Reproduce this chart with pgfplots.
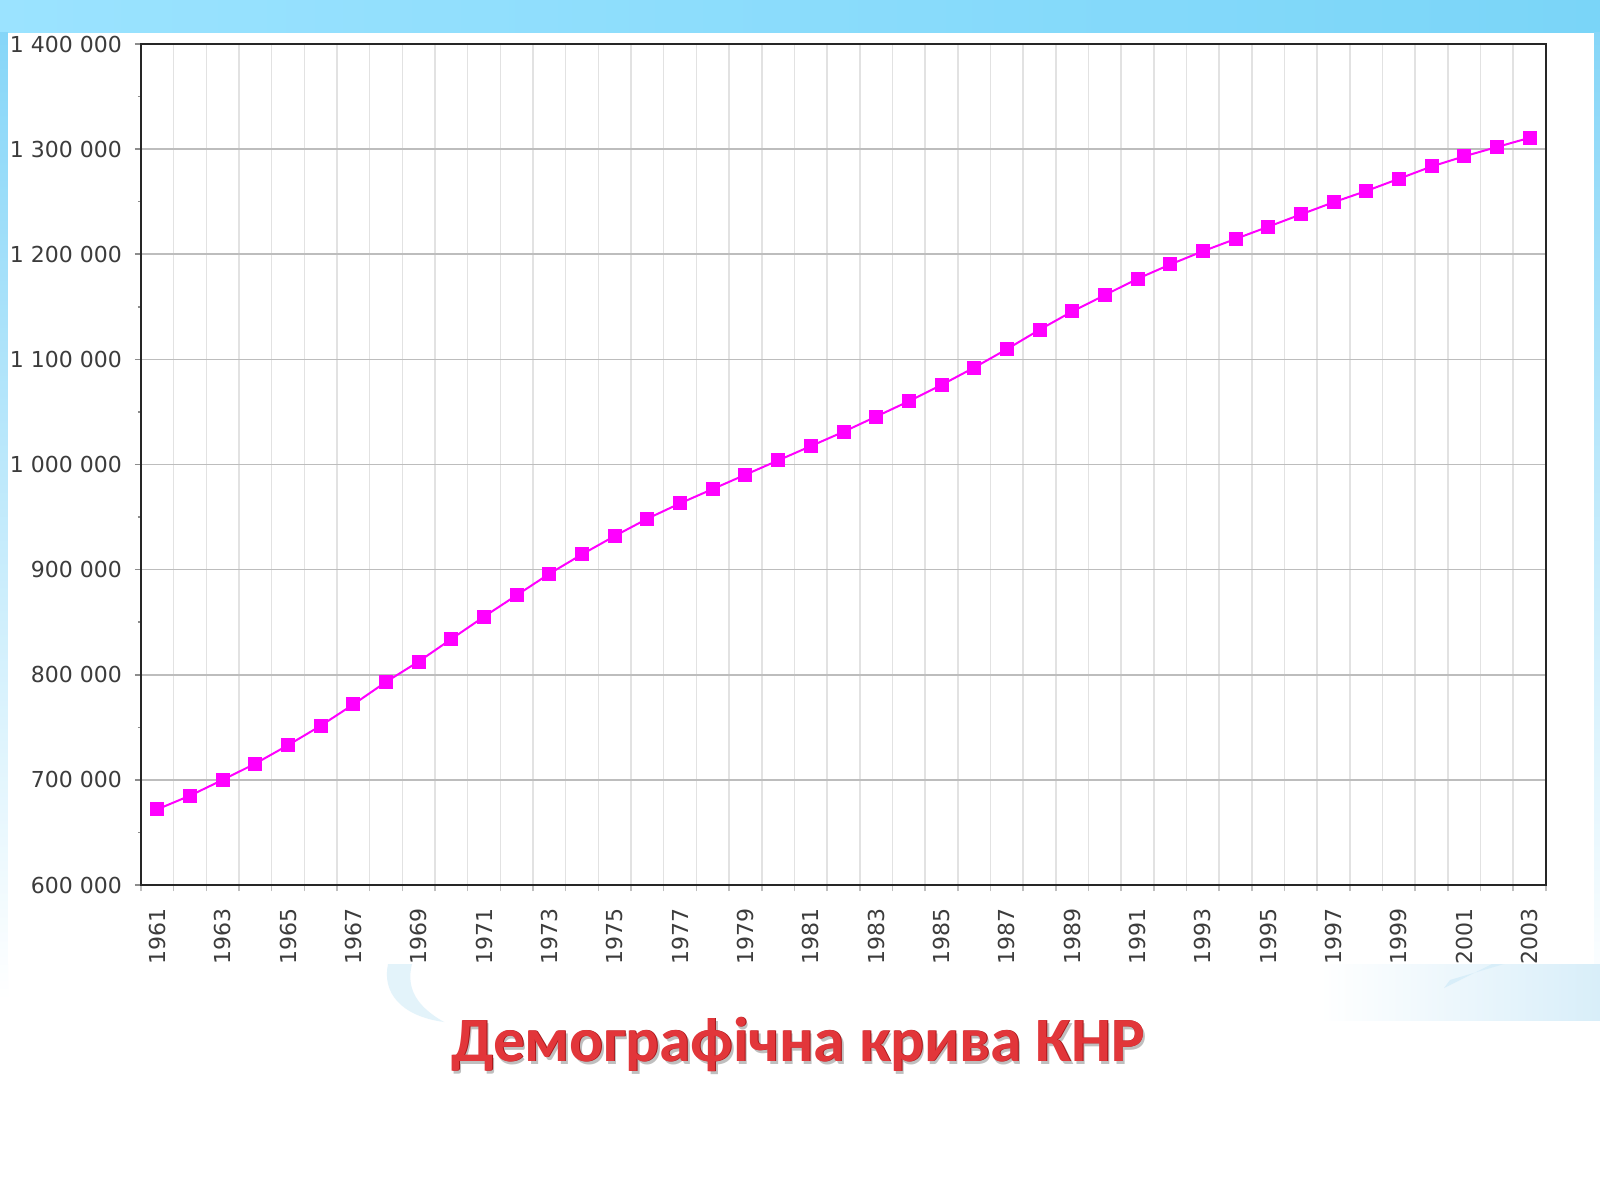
\documentclass[border=0pt]{standalone}
\usepackage{fontspec}
\setmainfont{DejaVu Sans}
\newfontfamily\titlefont{Carlito}
\usepackage{pgfplots}
\pgfplotsset{compat=1.18}

\definecolor{topL}{HTML}{9BE3FF}
\definecolor{topR}{HTML}{7AD5F8}
\definecolor{sideT}{HTML}{86D6F8}
\definecolor{cloud}{HTML}{D8EEF9}
\definecolor{gridV}{HTML}{E2E2E2}
\definecolor{gridH}{HTML}{BDBDBD}
\definecolor{labelC}{HTML}{3C3C3C}
\definecolor{lineMag}{HTML}{FF00FF}
\definecolor{titleRed}{HTML}{E2363A}
\definecolor{titleEdge}{HTML}{A81418}

\pgfplotstableread{
year pop
1961 672000
1962 685000
1963 700000
1964 715500
1965 733000
1966 751500
1967 771800
1968 793200
1969 812600
1970 834000
1971 855300
1972 875700
1973 896100
1974 914600
1975 932000
1976 948500
1977 963100
1978 976700
1979 990300
1980 1003900
1981 1017500
1982 1031100
1983 1045600
1984 1060200
1985 1075700
1986 1092200
1987 1109700
1988 1128200
1989 1145600
1990 1161200
1991 1176700
1992 1190300
1993 1202900
1994 1214600
1995 1226200
1996 1237900
1997 1249500
1998 1260200
1999 1271800
2000 1283500
2001 1293200
2002 1302000
2003 1310800
}\popdata

\begin{document}
\begin{tikzpicture}
\path[use as bounding box] (0,0) rectangle (800pt,600pt);
\fill[white] (0,0) rectangle (800pt,600pt);
% slide background round the white chart box
\shade[left color=topL, right color=topR] (0,583.5pt) rectangle (800pt,600pt);
\shade[top color=sideT, bottom color=white] (0,100pt) rectangle (4pt,583.5pt);
\shade[top color=sideT, bottom color=white] (797pt,100pt) rectangle (800pt,583.5pt);
\shade[left color=white, right color=cloud] (660pt,90pt) rectangle (800pt,118pt);
\fill[cloud, opacity=0.7] (194pt,118pt) .. controls (191pt,104pt) and (200pt,92pt) .. (222pt,89pt)
  .. controls (208pt,97pt) and (203pt,106pt) .. (206pt,118pt) -- cycle;
\fill[cloud] (725pt,110pt) -- (752pt,118pt) -- (746pt,118pt) -- (722pt,106pt) -- cycle;
\fill[white] (4pt,118pt) rectangle (797pt,583.5pt);

\begin{axis}[
  at={(70.5pt,157.5pt)}, anchor=south west,
  scale only axis, width=702.5pt, height=420.5pt,
  xmin=1960.5, xmax=2003.5,
  ymin=600000, ymax=1400000,
  axis line style={line width=1pt, color=black!85},
  tick align=outside, xtick pos=bottom, ytick pos=left,
  major tick length=3pt, minor tick length=1.5pt,
  xtick={1960.5,1961.5,...,2003.5}, xticklabels={},
  x tick style={color=black!25, line width=0.75pt},
  extra x ticks={1961,1963,...,2003},
  extra x tick labels={1961,1963,1965,1967,1969,1971,1973,1975,1977,1979,1981,1983,1985,1987,1989,1991,1993,1995,1997,1999,2001,2003},
  extra x tick style={grid=none, tick style={draw=none},
    xticklabel style={rotate=90, anchor=east, xshift=-5pt}},
  xmajorgrids, major x grid style={color=gridV, line width=0.75pt},
  ytick={600000,700000,...,1400000},
  minor ytick={650000,750000,...,1350000},
  scaled y ticks=false,
  y tick style={color=black!45, line width=0.75pt},
  ymajorgrids, major y grid style={color=gridH, line width=0.75pt},
  ticklabel style={font=\fontsize{11}{13}\selectfont, text=labelC},
  yticklabel style={xshift=-3pt},
  /pgf/number format/fixed,
  /pgf/number format/1000 sep={\ },
  /pgf/number format/assume math mode=true,
]
\addplot[color=lineMag, line width=1pt, mark=square*, mark size=3pt] table[x=year, y=pop] {\popdata};
\end{axis}

\node[anchor=base, font=\titlefont\bfseries\fontsize{31.5}{36}\selectfont, text=black!25]
  at (400.2pt,68pt) {Демографічна крива КНР};
\node[anchor=base, font=\titlefont\bfseries\fontsize{31.5}{36}\selectfont, text=titleEdge]
  at (399.4pt,69.1pt) {Демографічна крива КНР};
\node[anchor=base, font=\titlefont\bfseries\fontsize{31.5}{36}\selectfont, text=titleRed]
  at (399pt,69.5pt) {Демографічна крива КНР};
\end{tikzpicture}
\end{document}
